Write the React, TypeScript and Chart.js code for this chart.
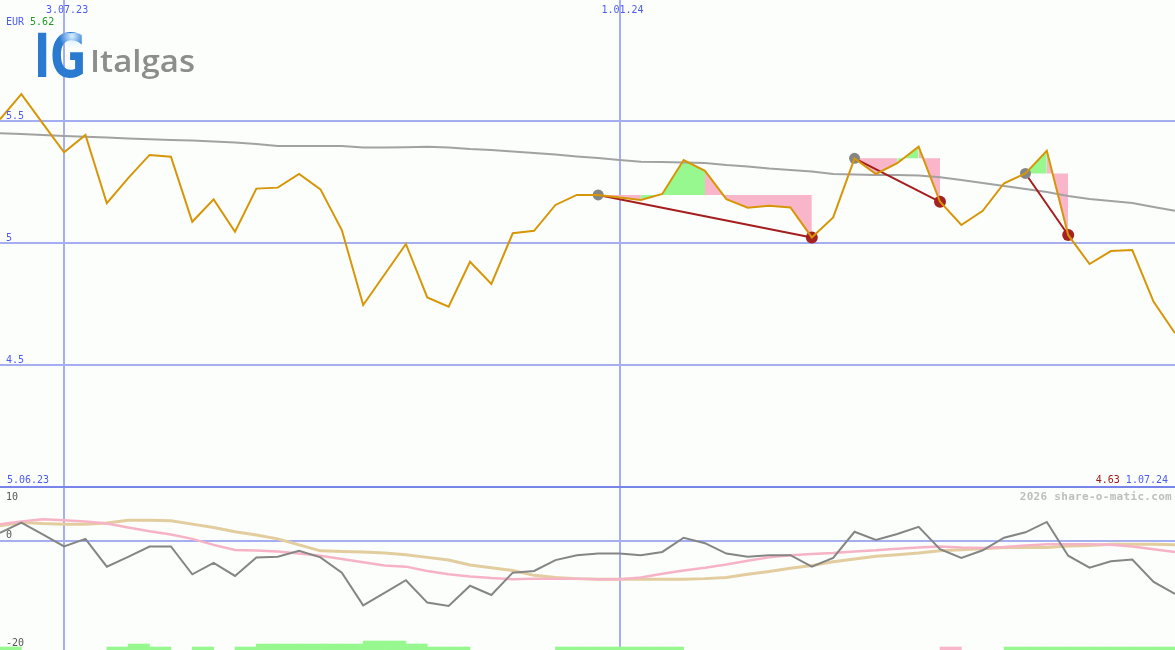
import React, { useEffect, useRef } from 'react';
import { Chart, registerables } from 'chart.js';

Chart.register(...registerables);

// ---- data (weekly closes, 12.06.2023 .. 1.07.2024) ----
const closes = [
  5.507, 5.61, 5.49, 5.372, 5.443, 5.163, 5.266, 5.361, 5.354, 5.087,
  5.179, 5.046, 5.223, 5.227, 5.283, 5.22, 5.053, 4.746, 4.871, 4.996,
  4.777, 4.739, 4.923, 4.832, 5.04, 5.05, 5.156, 5.197, 5.197, 5.187,
  5.176, 5.201, 5.34, 5.296, 5.18, 5.145, 5.153, 5.146, 5.023, 5.105,
  5.347, 5.283, 5.327, 5.395, 5.169, 5.074, 5.132, 5.245, 5.285, 5.378,
  5.033, 4.914, 4.967, 4.971, 4.759, 4.63,
];
const longAverage = [
  5.45, 5.447, 5.443, 5.439, 5.436, 5.432, 5.428, 5.425, 5.422, 5.42,
  5.416, 5.412, 5.406, 5.398, 5.398, 5.398, 5.398, 5.391, 5.391, 5.393,
  5.395, 5.391, 5.385, 5.381, 5.375, 5.369, 5.363, 5.355, 5.348, 5.34,
  5.333, 5.332, 5.33, 5.328, 5.32, 5.314, 5.305, 5.299, 5.293, 5.283,
  5.281, 5.279, 5.279, 5.277, 5.27, 5.258, 5.246, 5.234, 5.221, 5.209,
  5.193, 5.18, 5.172, 5.164, 5.148, 5.132,
];
const momentum = [
  1.5, 3.4, 1.2, -1.0, 0.4, -4.7, -2.9, -1.0, -1.0, -6.1,
  -4.0, -6.4, -3.0, -2.9, -1.8, -3.0, -5.8, -11.8, -9.5, -7.2,
  -11.3, -11.9, -8.2, -9.9, -5.8, -5.5, -3.5, -2.6, -2.3, -2.3,
  -2.6, -2.0, 0.6, -0.4, -2.3, -2.9, -2.6, -2.6, -4.7, -3.1,
  1.7, 0.2, 1.3, 2.6, -1.5, -3.1, -1.7, 0.6, 1.6, 3.5,
  -2.7, -4.9, -3.7, -3.4, -7.5, -9.7,
];
const momentumFast = [
  3.1, 3.6, 4.0, 3.8, 3.6, 3.2, 2.5, 1.8, 1.2, 0.4,
  -0.7, -1.65, -1.75, -1.9, -2.3, -2.7, -3.3, -3.9, -4.5, -4.7,
  -5.5, -6.1, -6.5, -6.8, -7.0, -6.9, -6.9, -6.9, -7.0, -7.0,
  -6.7, -6.0, -5.4, -4.9, -4.3, -3.6, -3.0, -2.6, -2.4, -2.2,
  -1.9, -1.7, -1.4, -1.2, -1.0, -1.2, -1.3, -1.1, -0.8, -0.6,
  -0.6, -0.6, -0.7, -1.0, -1.5, -2.0,
];
const momentumSlow = [
  2.8, 3.4, 3.2, 3.1, 3.1, 3.3, 3.8, 3.8, 3.7, 3.1,
  2.5, 1.7, 1.1, 0.4, -0.7, -1.8, -1.9, -2.0, -2.2, -2.5,
  -3.0, -3.5, -4.4, -4.9, -5.4, -6.3, -6.7, -6.9, -7.0, -7.0,
  -7.0, -7.0, -7.0, -6.9, -6.7, -6.1, -5.6, -5.0, -4.5, -3.8,
  -3.3, -2.8, -2.5, -2.2, -1.8, -1.6, -1.4, -1.2, -1.2, -1.2,
  -0.9, -0.8, -0.6, -0.6, -0.6, -0.7,
];
// one bar per weekly interval (positive = green, negative = pink)
const signalBars = [
  0.55, 0, 0, 0, 0, 0.55, 1.1, 0.55, 0, 0.55,
  0, 0.55, 1.1, 1.1, 1.1, 1.1, 1.1, 1.65, 1.65, 1.1,
  0.55, 0.55, 0, 0, 0, 0, 0.55, 0.55, 0.55, 0.55,
  0.55, 0.55, 0, 0, 0, 0, 0, 0, 0, 0,
  0, 0, 0, 0, -0.55, 0, 0, 0.55, 0.55, 0.55,
  0.55, 0.55, 0.55, 0.55, 0.55,
];
const patternStarts = [28, 40, 48];
const patternEnds = [38, 44, 50];

const priceTicks = [5.5, 5, 4.5];
const oscTicks = [10, 0, -20];
const dateTickIndex = [3, 29];
const dateTickLabels = ['3.07.23', '1.01.24'];
const firstDateLabel = '5.06.23';
const lastDateLabel = '1.07.24';
const currencyLabel = 'EUR';
const highLabel = '5.62';
const lastLabel = '4.63';
const watermark = '2026 share-o-matic.com';
const brandMark = 'IG';
const brandName = 'Italgas';

// ---- layout / style ----
const W = 1175;
const H = 650;
const PRICE_MIN = 3.332;
const PRICE_MAX = 5.996;
const OSC_MIN = -20;
const OSC_MAX = 99.3;

const BG = '#fbfefb';
const GRID = '#a6aef2';
const SEP = '#7884ea';
const BLUE = '#4c5cf0';
const GREEN_TXT = '#1f9a1f';
const RED_TXT = '#a01818';
const PRICE_C = '#d69608';
const AVG_C = '#a2a2a2';
const MOM_C = '#858585';
const FAST_C = '#f7b3c6';
const SLOW_C = '#e3cd9f';
const FILL_UP = '#98f890';
const FILL_DOWN = '#f9b6ca';
const TREND_C = '#a51d1d';
const MONO = '"DejaVu Sans Mono", monospace';

const toXY = (arr: number[]) => arr.map((y, x) => ({ x, y }));

const decorPlugin = {
  id: 'decor',
  beforeDraw(chart: any) {
    const { ctx, width, height } = chart;
    ctx.save();
    ctx.fillStyle = BG;
    ctx.fillRect(0, 0, width, height);
    ctx.restore();
  },
  beforeDatasetsDraw(chart: any) {
    const { ctx, chartArea: a, scales } = chart;
    const xs = scales.x;
    const yp = scales.yPrice;
    const yo = scales.yOsc;
    ctx.save();
    ctx.lineWidth = 2;
    ctx.strokeStyle = GRID;
    const hline = (y: number) => {
      ctx.beginPath();
      ctx.moveTo(a.left, y);
      ctx.lineTo(a.right, y);
      ctx.stroke();
    };
    priceTicks.forEach((v) => hline(Math.round(yp.getPixelForValue(v))));
    hline(Math.round(yo.getPixelForValue(0)));
    dateTickIndex.forEach((i) => {
      const px = Math.round(xs.getPixelForValue(i));
      ctx.beginPath();
      ctx.moveTo(px, a.top);
      ctx.lineTo(px, a.bottom);
      ctx.stroke();
    });
    ctx.strokeStyle = SEP;
    hline(Math.round(yo.getPixelForValue(oscTicks[0])));
    ctx.restore();
  },
  afterDatasetsDraw(chart: any) {
    const { ctx, chartArea: a, scales } = chart;
    const xs = scales.x;
    const yp = scales.yPrice;
    const yo = scales.yOsc;
    const sepY = yo.getPixelForValue(oscTicks[0]);
    ctx.save();
    ctx.font = `10px ${MONO}`;
    ctx.textBaseline = 'alphabetic';

    // date ticks on top
    ctx.fillStyle = BLUE;
    ctx.textAlign = 'center';
    dateTickIndex.forEach((i, k) => {
      ctx.fillText(dateTickLabels[k], xs.getPixelForValue(i) + 3, 13);
    });

    // currency + high
    ctx.textAlign = 'left';
    ctx.fillText(currencyLabel, 6, 25);
    const cw = ctx.measureText(currencyLabel + ' ').width;
    ctx.fillStyle = GREEN_TXT;
    ctx.fillText(highLabel, 6 + cw, 25);

    // price ticks
    ctx.fillStyle = BLUE;
    priceTicks.forEach((v) => {
      ctx.fillText(String(v), 6, Math.round(yp.getPixelForValue(v)) - 2);
    });

    // range dates
    ctx.fillText(firstDateLabel, 7, sepY - 4);
    ctx.textAlign = 'right';
    ctx.fillText(lastDateLabel, a.right - 7, sepY - 4);
    const lw = ctx.measureText(lastDateLabel + ' ').width;
    ctx.fillStyle = RED_TXT;
    ctx.fillText(lastLabel, a.right - 7 - lw, sepY - 4);

    // watermark
    ctx.font = `bold 11px ${MONO}`;
    (ctx as any).letterSpacing = '0.3px';
    ctx.fillStyle = '#bebebe';
    ctx.fillText(watermark, a.right - 3, sepY + 13);
    (ctx as any).letterSpacing = '0px';

    // oscillator ticks
    ctx.font = `10px ${MONO}`;
    ctx.textAlign = 'left';
    ctx.fillStyle = '#555555';
    oscTicks.forEach((v) => {
      const y = yo.getPixelForValue(v);
      const base = Math.min(Math.max(y - 3, sepY + 13), a.bottom - 4);
      ctx.fillText(String(v), 6, base);
    });

    // logo
    ctx.save();
    const g = ctx.createLinearGradient(0, 33, 0, 77);
    g.addColorStop(0, '#2b7ad2');
    g.addColorStop(0.45, '#1356b4');
    g.addColorStop(1, '#0a3886');
    ctx.fillStyle = g;
    ctx.font = 'bold 46px "DejaVu Sans"';
    ctx.translate(34, 77);
    ctx.scale(0.95, 1.3);
    ctx.fillText(brandMark, 0, 0);
    ctx.restore();
    ctx.save();
    const rg = ctx.createRadialGradient(72, 36, 1, 72, 36, 13);
    rg.addColorStop(0, 'rgba(215,238,255,0.95)');
    rg.addColorStop(1, 'rgba(215,238,255,0)');
    ctx.fillStyle = rg;
    ctx.fillRect(58, 33, 28, 16);
    ctx.restore();
    ctx.save();
    ctx.font = '600 31px "Open Sans"';
    ctx.fillStyle = '#8d8d8d';
    ctx.textAlign = 'left';
    const nw = ctx.measureText(brandName).width;
    ctx.translate(90, 72);
    ctx.scale(105 / nw, 1);
    ctx.fillText(brandName, 0, 0);
    ctx.restore();

    ctx.restore();
  },
};

function buildConfig(): any {
  const trendSets = patternStarts.map((s, k) => {
    const e = patternEnds[k];
    return {
      type: 'line',
      data: [
        { x: s, y: closes[s] },
        { x: e, y: closes[e] },
      ],
      yAxisID: 'yPrice',
      borderColor: TREND_C,
      borderWidth: 2,
      pointRadius: [5.5, 6],
      pointBackgroundColor: ['#858585', '#a52222'],
      pointBorderWidth: 0,
      fill: false,
    };
  });
  const fillSets = patternStarts.map((s, k) => {
    const e = patternEnds[k];
    const level = closes[s];
    return {
      type: 'line',
      data: closes.slice(s, e + 1).map((y, j) => ({ x: s + j, y })),
      yAxisID: 'yPrice',
      borderWidth: 0,
      borderColor: 'rgba(0,0,0,0)',
      backgroundColor: FILL_DOWN,
      pointRadius: 0,
      fill: { value: level },
      segment: {
        backgroundColor: (ctx: any) =>
          closes[s + ctx.p1DataIndex] > level ? FILL_UP : FILL_DOWN,
      },
    };
  });
  const barPoints: any[] = [];
  const barColors: string[] = [];
  signalBars.forEach((v, i) => {
    if (v !== 0) {
      barPoints.push({ x: i + 0.5, y: [OSC_MIN, OSC_MIN + Math.abs(v)] });
      barColors.push(v > 0 ? FILL_UP : FILL_DOWN);
    }
  });

  return {
    type: 'line',
    data: {
      datasets: [
        {
          data: toXY(closes),
          yAxisID: 'yPrice',
          borderColor: PRICE_C,
          borderWidth: 2,
          pointRadius: 0,
          fill: false,
        },
        ...trendSets,
        {
          data: toXY(longAverage),
          yAxisID: 'yPrice',
          borderColor: AVG_C,
          borderWidth: 2,
          pointRadius: 0,
          fill: false,
        },
        ...fillSets,
        {
          data: toXY(momentum),
          yAxisID: 'yOsc',
          borderColor: MOM_C,
          borderWidth: 2,
          pointRadius: 0,
          fill: false,
        },
        {
          data: toXY(momentumFast),
          yAxisID: 'yOsc',
          borderColor: FAST_C,
          borderWidth: 2.5,
          pointRadius: 0,
          fill: false,
        },
        {
          data: toXY(momentumSlow),
          yAxisID: 'yOsc',
          borderColor: SLOW_C,
          borderWidth: 3,
          pointRadius: 0,
          fill: false,
        },
        {
          type: 'bar',
          data: barPoints,
          yAxisID: 'yOsc',
          backgroundColor: barColors,
          borderWidth: 0,
          barPercentage: 1,
          categoryPercentage: 1,
        },
      ],
    },
    options: {
      responsive: false,
      maintainAspectRatio: false,
      animation: false,
      devicePixelRatio: 1,
      events: [],
      layout: { padding: 0, autoPadding: false },
      elements: { line: { tension: 0 } },
      plugins: {
        legend: { display: false },
        tooltip: { enabled: false },
      },
      scales: {
        x: {
          type: 'linear',
          min: 0,
          max: closes.length - 1,
          offset: false,
          display: false,
          grid: { offset: false },
        },
        yPrice: {
          type: 'linear',
          min: PRICE_MIN,
          max: PRICE_MAX,
          display: false,
        },
        yOsc: {
          type: 'linear',
          min: OSC_MIN,
          max: OSC_MAX,
          display: false,
        },
      },
    },
    plugins: [decorPlugin],
  };
}

export default function App() {
  const ref = useRef<HTMLCanvasElement>(null);
  useEffect(() => {
    document.body.style.margin = '0';
    const canvas = ref.current;
    if (!canvas) return;
    const chart = new Chart(canvas, buildConfig());
    return () => chart.destroy();
  }, []);
  return (
    <div style={{ width: W, height: H }}>
      <canvas ref={ref} width={W} height={H} style={{ display: 'block', width: W, height: H }} />
    </div>
  );
}
